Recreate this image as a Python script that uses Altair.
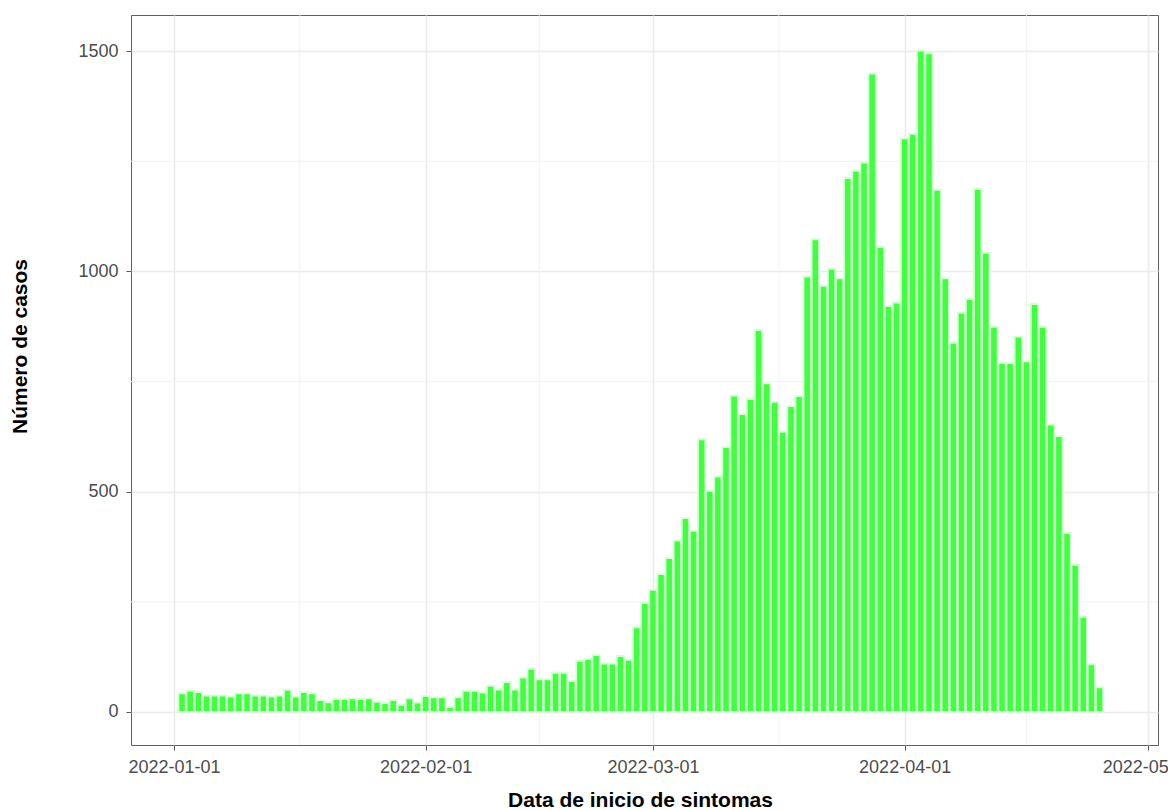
import altair as alt
import pandas as pd

# ---- data ----
first_day = "2022-01-02"
casos = [
    42, 48, 45, 37, 37, 37, 35, 42, 42, 37, 37, 35, 37, 50, 35, 45, 42, 27, 22, 29,
    29, 31, 29, 31, 23, 20, 27, 16, 31, 21, 36,
    33, 33, 11, 33, 48, 48, 44, 59, 51, 68, 51, 78, 98, 74, 74, 89, 89, 70, 116,
    120, 129, 110, 110, 127, 118, 192, 247,
    277, 313, 349, 389, 440, 411, 619, 502, 534, 601, 718, 676, 710, 867, 746, 704,
    636, 694, 717,
    988, 1073, 967, 1006, 984, 1212, 1228, 1247, 1449, 1055, 921, 929, 1302, 1312,
    1501, 1495, 1185, 984, 838, 906, 937, 1187,
    1042, 874, 792, 792, 852, 796, 926, 874, 652, 626, 406, 334, 216, 108, 56,
]
fechas = [d.strftime("%Y-%m-%d") for d in pd.date_range(first_day, periods=len(casos), freq="D")]

y_ticks = [0, 500, 1000, 1500]
y_minor = [250, 750, 1250]
x_minor = ["2022-01-16T12:00:00Z", "2022-02-15T00:00:00Z", "2022-03-16T12:00:00Z", "2022-04-16T00:00:00Z"]
x_tick_months = [1, 2, 3, 4, 5]

df = pd.DataFrame({"fecha": fechas, "casos": casos})
df_ymin = pd.DataFrame({"v": y_minor})
df_xmin = pd.DataFrame({"t": x_minor})

FONT = "Liberation Sans"
GRID = "#EBEBEB"

xscale = alt.Scale(
    type="utc",
    domain=[
        alt.DateTime(year=2021, month=12, date=26, hours=17, utc=True),
        alt.DateTime(year=2022, month=5, date=2, hours=5, utc=True),
    ],
    nice=False,
)
yscale = alt.Scale(domain=[-75, 1582], nice=False, zero=False)

xaxis = alt.Axis(
    values=[alt.DateTime(year=2022, month=m, date=1, utc=True) for m in x_tick_months],
    labelExpr="utcFormat(datum.value, '%Y-%m-%d')",
    title="Data de inicio de sintomas",
    labelFlush=False,
    labelOverlap=False,
    grid=True,
    gridColor=GRID,
    gridWidth=1.6,
    domain=False,
    tickColor="#555555",
    tickSize=5,
    tickWidth=1,
    labelPadding=8,
    labelFont=FONT,
    labelFontSize=18,
    labelColor="#4D4D4D",
    titleFont=FONT,
    titleFontSize=21,
    titleFontWeight="bold",
    titleColor="black",
    titleX=509,
    titleY=55,
    titleBaseline="middle",
    titleAlign="center",
)
yaxis = alt.Axis(
    values=y_ticks,
    labelExpr="format(datum.value, 'd')",
    title="Número de casos",
    grid=True,
    gridColor=GRID,
    gridWidth=1.6,
    domain=False,
    tickColor="#555555",
    tickSize=5,
    tickWidth=1,
    labelPadding=8,
    labelFont=FONT,
    labelFontSize=18,
    labelColor="#4D4D4D",
    titleFont=FONT,
    titleFontSize=21,
    titleFontWeight="bold",
    titleColor="black",
    titleAngle=270,
    titleX=-111,
    titleY=331,
    titleBaseline="middle",
    titleAlign="center",
)

ymin_rules = alt.Chart(df_ymin).mark_rule(color="#F0F0F0", strokeWidth=0.9).encode(
    y=alt.Y("v:Q", scale=yscale, axis=yaxis)
)
xmin_rules = alt.Chart(df_xmin).mark_rule(color="#F0F0F0", strokeWidth=0.9).encode(
    x=alt.X("t:T", scale=xscale, axis=xaxis)
)

bars = (
    alt.Chart(df)
    .transform_calculate(
        x0="time(datum.fecha) - 0.45*86400000",
        x1="time(datum.fecha) + 0.45*86400000",
    )
    .mark_bar(fill="#3FFF3F", stroke="#D2FFD2", strokeWidth=1.8)
    .encode(
        x=alt.X("x0:T", scale=xscale, axis=xaxis),
        x2="x1:T",
        y=alt.Y("casos:Q", scale=yscale, axis=yaxis),
        y2=alt.datum(0),
    )
)

chart = (
    alt.layer(ymin_rules, xmin_rules, bars)
    .properties(
        width=1027,
        height=730,
        autosize=alt.AutoSizeParams(type="none"),
        padding={"left": 123, "top": 7, "right": 10, "bottom": 65},
        background="white",
    )
    .configure_view(stroke="#5F5F5F", strokeWidth=1)
)

chart.save("out.html", embed_options={"renderer": "svg", "actions": False})
